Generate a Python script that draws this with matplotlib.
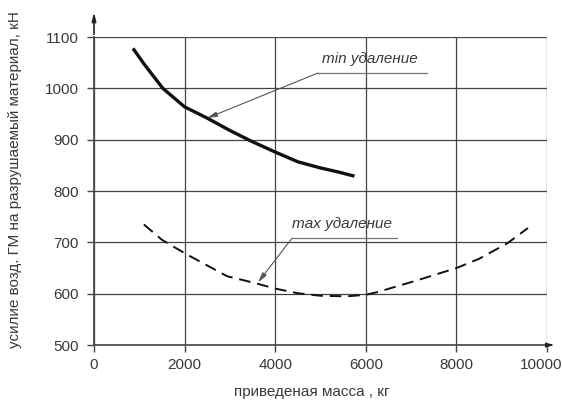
import matplotlib
matplotlib.use("Agg")
import matplotlib.pyplot as plt
from matplotlib.transforms import ScaledTranslation

# --- data ---
min_x = [860, 1100, 1520, 2000, 2500, 3000, 3500, 4000, 4500, 5000, 5400, 5750]
min_y = [1078, 1048, 1000, 964, 942, 918, 896, 876, 857, 845, 837, 829]

max_x = [1100, 1500, 2000, 2500, 2940, 3500, 4000, 4500, 5000, 5600, 6000, 6250, 7130, 8000, 8500, 9120, 9580]
max_y = [735, 705, 679, 655, 634, 622, 610, 601, 596, 595, 598, 603, 626, 650, 668, 698, 728]

x_ticks = [0, 2000, 4000, 6000, 8000, 10000]
y_ticks = [500, 600, 700, 800, 900, 1000, 1100]

label_min = "min удаление"
label_max = "max удаление"
x_label = "приведеная масса , кг"
y_label = "усилие возд. ГМ на разрушаемый материал, кН"

FONT = ["Liberation Sans Narrow", "Liberation Sans", "DejaVu Sans"]
TXT = "#3a3a3a"
GRID = "#444444"

fig = plt.figure(figsize=(5.62, 4.05), dpi=100)
ax = fig.add_axes([0.1673, 0.148, 0.806, 0.7605])
ax.set_xlim(0, 10000)
ax.set_ylim(500, 1100)
ax.set_xticks(x_ticks)
ax.set_yticks(y_ticks)
ax.set_xticklabels([str(v) for v in x_ticks], family=FONT, fontsize=11, color=TXT)
ax.set_yticklabels([str(v) for v in y_ticks], family=FONT, fontsize=11, color=TXT)
ax.tick_params(length=5, width=1, color=GRID)
ax.tick_params(axis="y", pad=6)
ax.tick_params(axis="x", pad=4)
ax.grid(True, color=GRID, linewidth=0.9)
ax.set_axisbelow(True)
for s in ["top", "right"]:
    ax.spines[s].set_visible(False)
for s in ["left", "bottom"]:
    ax.spines[s].set_color(GRID)
    ax.spines[s].set_linewidth(1.2)

# shift the last x tick label slightly left so it stays inside the figure
last = ax.get_xticklabels()[-1]
last.set_transform(last.get_transform() + ScaledTranslation(-6 / 100, 0, fig.dpi_scale_trans))

# axis arrows
ax.annotate("", xy=(0, 1.09), xytext=(0, 1.0), xycoords="axes fraction",
            arrowprops=dict(arrowstyle="-|>,head_length=0.5,head_width=0.12", color="#222222", lw=1.2),
            annotation_clip=False)
ax.annotate("", xy=(1.022, 0), xytext=(1.0, 0), xycoords="axes fraction",
            arrowprops=dict(arrowstyle="-|>,head_length=0.4,head_width=0.12", color="#222222", lw=1.2),
            annotation_clip=False)

ax.plot(min_x, min_y, color="#111111", linewidth=2.4, solid_capstyle="butt", zorder=3)
ax.plot(max_x, max_y, color="#111111", linewidth=1.4, dashes=(6, 3.5), zorder=3)

# leader labels
ax.text(6100, 1058, label_min, family=FONT, style="italic", fontsize=11, color=TXT,
        ha="center", va="center")
ax.plot([4945, 7350], [1030, 1030], color="#777777", linewidth=0.9, zorder=3)
ax.annotate("", xy=(2494, 942), xytext=(4945, 1030), xycoords="data",
            arrowprops=dict(arrowstyle="-|>,head_length=0.6,head_width=0.15", color="#555555", lw=0.8,
                            shrinkA=0, shrinkB=0), zorder=4)

ax.text(5480, 735, label_max, family=FONT, style="italic", fontsize=11, color=TXT,
        ha="center", va="center")
ax.plot([4370, 6690], [708, 708], color="#777777", linewidth=0.9, zorder=3)
ax.annotate("", xy=(3620, 622), xytext=(4370, 708), xycoords="data",
            arrowprops=dict(arrowstyle="-|>,head_length=0.6,head_width=0.15", color="#555555", lw=0.8,
                            shrinkA=0, shrinkB=0), zorder=4)

fig.text(312 / 562, 1 - 392 / 405, x_label, family=FONT, fontsize=11, color=TXT,
         ha="center", va="center")
fig.text(15 / 562, 1 - 180 / 405, y_label, family=FONT, fontsize=11, color=TXT,
         ha="center", va="center", rotation=90)

fig.savefig("out.png", dpi=100)
